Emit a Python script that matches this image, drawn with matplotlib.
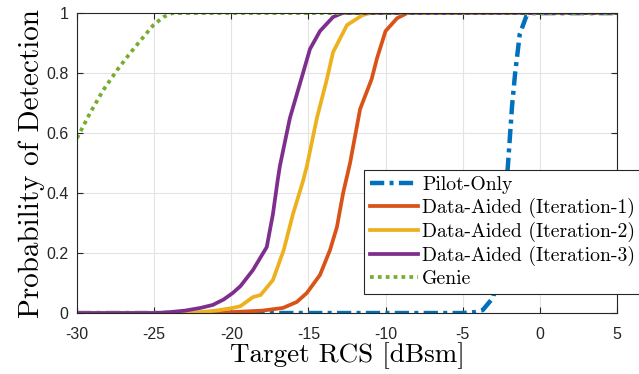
import numpy as np
import matplotlib.pyplot as plt

# --- Données ---
x_pilot = [-30, -5, -4.2, -3.7, -3.0, -2.5, -2.07, -1.8, -1.6, -1.3, -0.85, -0.5, 5]
p_pilot = [0, 0, 0.003, 0.01, 0.053, 0.25, 0.49, 0.69, 0.80, 0.93, 0.993, 1, 1]

x_it1 = [-30, -21, -20, -18, -16.65, -15.75, -15.1, -14.25, -13.6, -13.15, -12.75,
         -12.3, -11.65, -10.9, -10.55, -10.0, -9.25, -8.6, 5]
p_it1 = [0, 0, 0.003, 0.008, 0.017, 0.037, 0.067, 0.127, 0.21, 0.287, 0.40,
         0.50, 0.68, 0.78, 0.85, 0.94, 0.983, 1, 1]

x_it2 = [-30, -23, -22, -21, -20.5, -19.9, -19.4, -18.6, -18.1, -17.3, -16.6,
         -16.0, -15.35, -15.1, -14.45, -13.8, -13.4, -12.5, -11.5, -11, 5]
p_it2 = [0, 0, 0.003, 0.008, 0.012, 0.017, 0.023, 0.053, 0.06, 0.11, 0.21,
         0.33, 0.44, 0.49, 0.65, 0.78, 0.87, 0.96, 0.993, 1, 1]

x_it3 = [-30, -25, -24, -23, -22, -21.2, -20.5, -19.9, -19.4, -18.6, -17.7,
         -17.3, -17.0, -16.85, -16.2, -15.35, -14.9, -14.25, -13.4, -12.8, 5]
p_it3 = [0, 0, 0.003, 0.008, 0.017, 0.027, 0.045, 0.067, 0.09, 0.143, 0.22,
         0.33, 0.44, 0.49, 0.65, 0.80, 0.88, 0.94, 0.987, 1, 1]

x_genie = [-30, -29.15, -28.3, -27.4, -26.55, -25.7, -25.05, -24.4, -23.8, 5]
p_genie = [0.583, 0.667, 0.743, 0.81, 0.867, 0.92, 0.96, 0.987, 1, 1]

labels = ["Pilot-Only", "Data-Aided (Iteration-1)", "Data-Aided (Iteration-2)",
          "Data-Aided (Iteration-3)", "Genie"]
xticks = [-30, -25, -20, -15, -10, -5, 0, 5]
yticks = [0, 0.2, 0.4, 0.6, 0.8, 1]

# Couleurs MATLAB
c_blue, c_orange, c_yellow, c_purple, c_green = '#0072BD', '#D95319', '#EDB120', '#7E2F8E', '#77AC30'

fig = plt.figure(figsize=(6.39, 3.74), dpi=100)
ax = fig.add_axes([0.1205, 0.163, 0.845, 0.802])

ax.plot(x_pilot, p_pilot, color=c_blue, lw=3.2, dashes=(3.2, 1.2, 0.9, 1.2), label=labels[0])
ax.plot(x_it1, p_it1, color=c_orange, lw=2.7, label=labels[1])
ax.plot(x_it2, p_it2, color=c_yellow, lw=2.7, label=labels[2])
ax.plot(x_it3, p_it3, color=c_purple, lw=2.7, label=labels[3])
ax.plot(x_genie, p_genie, color=c_green, lw=2.7, dashes=(1, 1.1), label=labels[4])

ax.set_xlim(-30, 5)
ax.set_ylim(0, 1)
ax.set_xticks(xticks)
ax.set_yticks(yticks)
ax.set_xticklabels([str(v) for v in xticks], family='Liberation Sans', fontsize=11.5)
ax.set_yticklabels(['0', '0.2', '0.4', '0.6', '0.8', '1'], family='Liberation Sans', fontsize=11.5)
ax.tick_params(direction='in', top=True, right=True, length=4, width=0.8, colors='#262626')
ax.tick_params(axis='x', pad=10)
ax.tick_params(axis='y', pad=6)
ax.grid(True, color='#e3e3e3', linewidth=0.8)
ax.set_axisbelow(True)
for s in ax.spines.values():
    s.set_color('#262626')
    s.set_linewidth(0.8)

ax.set_xlabel("Target RCS [dBsm]", family='cmr10', fontsize=19.5, labelpad=0)
ax.set_ylabel("Probability of Detection", family='cmr10', fontsize=21, labelpad=1)

leg = ax.legend(loc='upper left', bbox_to_anchor=(0.531, 0.477), prop={'family': 'cmr10', 'size': 14.2},
                fancybox=False, framealpha=1, edgecolor='#262626', borderaxespad=0,
                handlelength=2.45, handletextpad=0.22, labelspacing=0.2, borderpad=0.3)
leg.get_frame().set_linewidth(0.8)

plt.savefig("out.png", dpi=100)
